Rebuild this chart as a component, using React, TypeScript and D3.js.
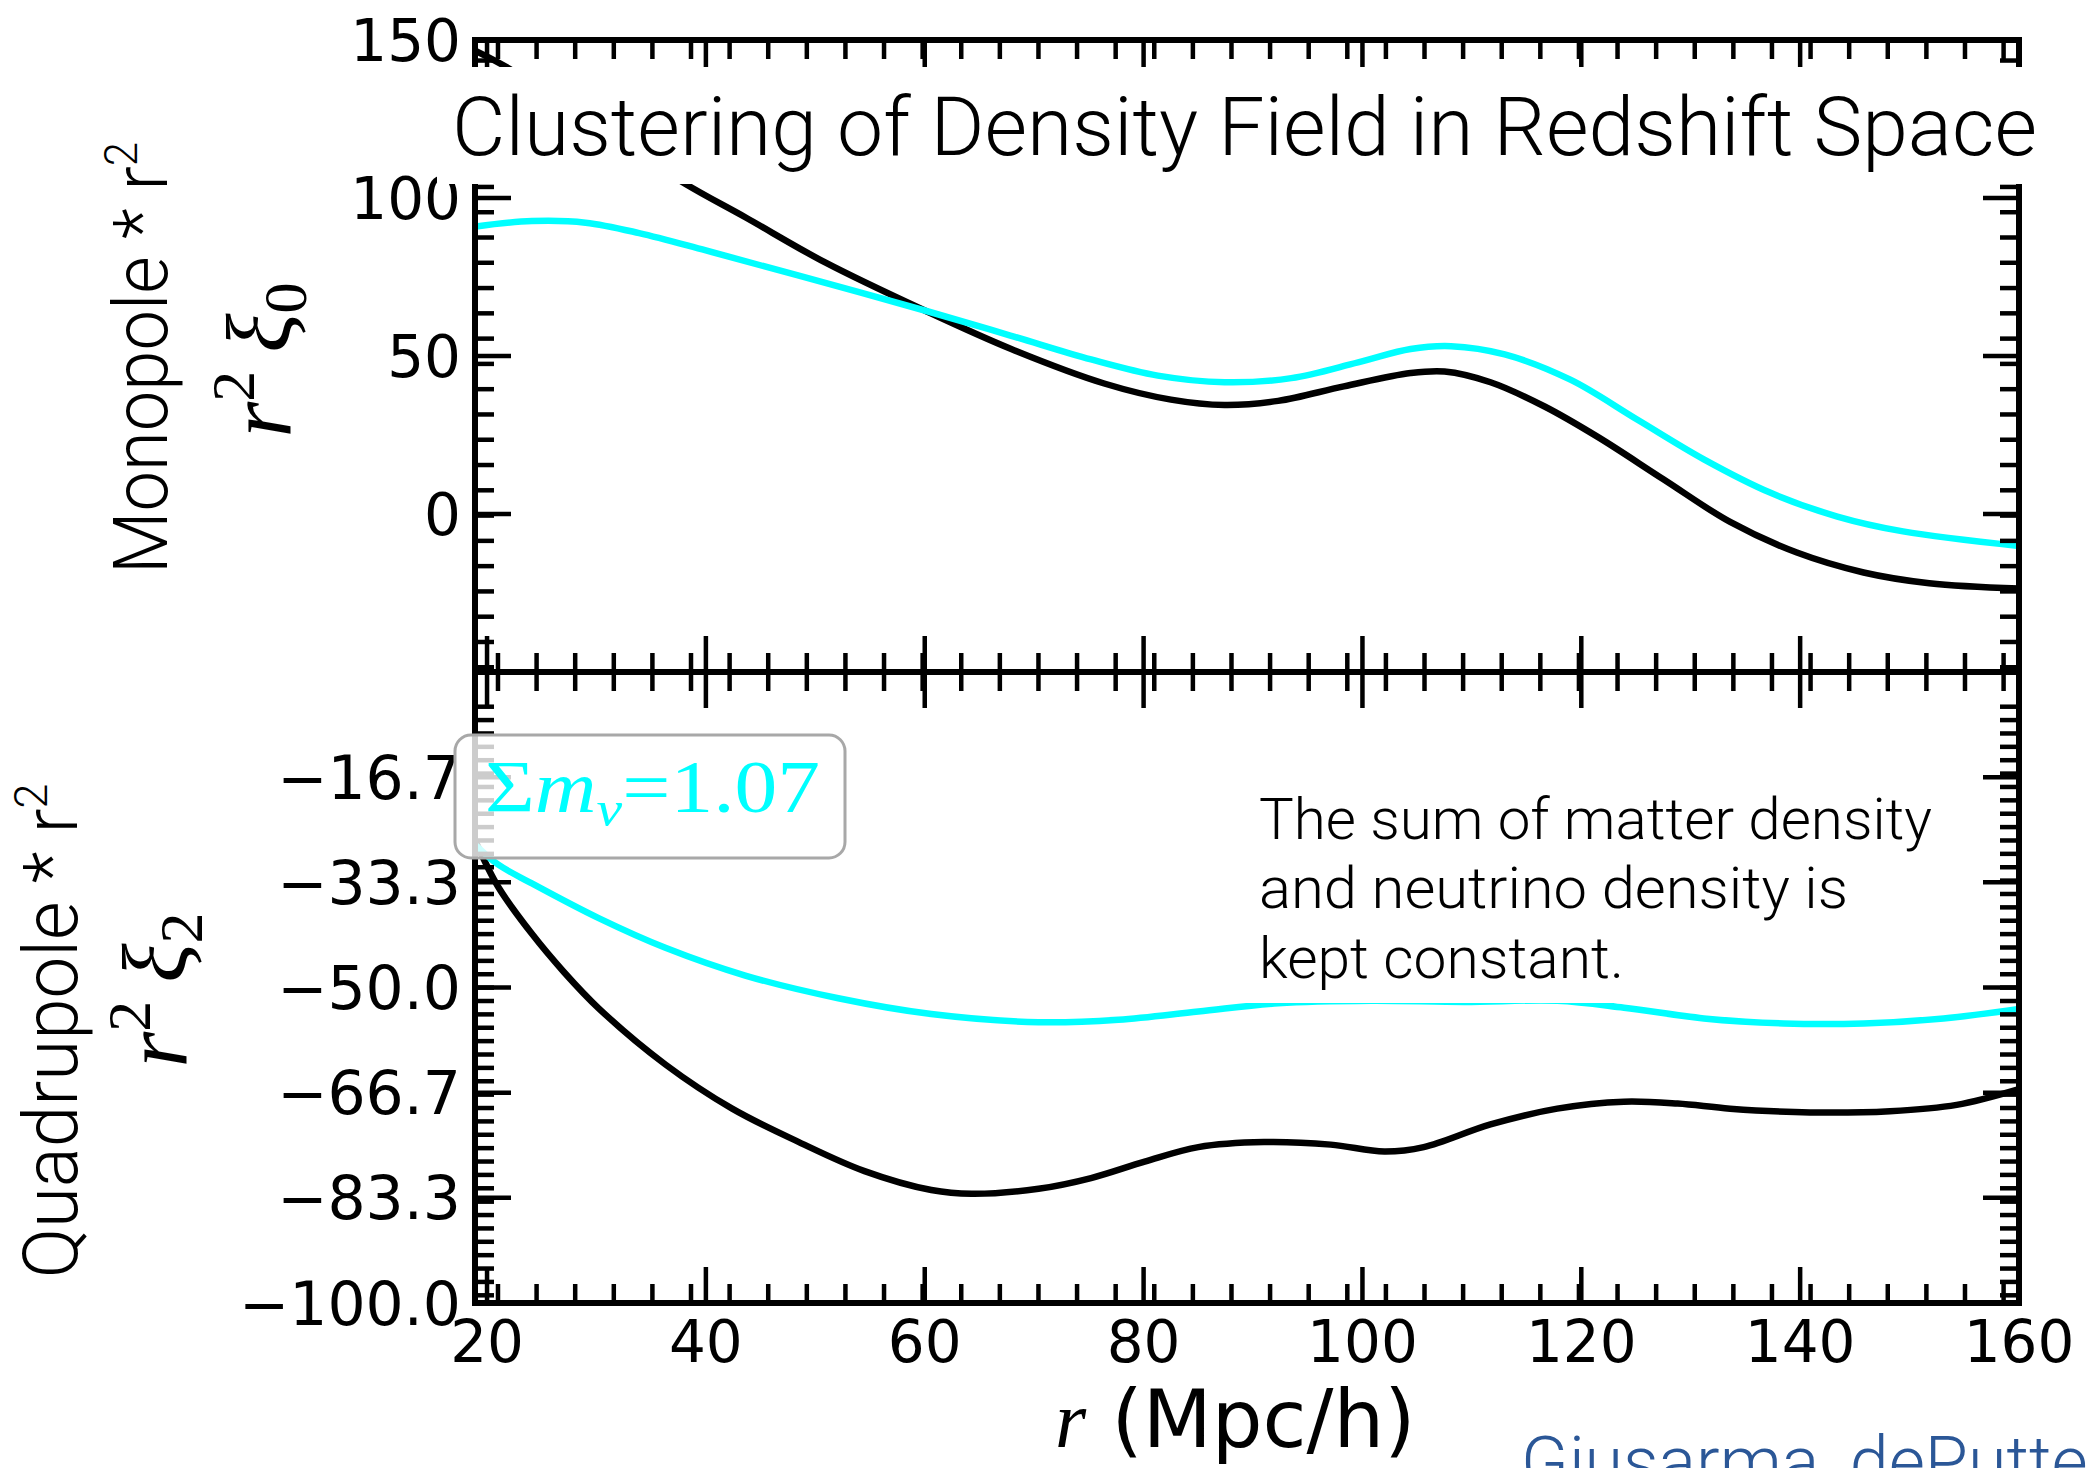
import React from "react";
import * as d3 from "d3";

// ---------- data ----------
const rTopBlack = [19, 22, 30, 38.1, 43.6, 50.9, 60, 67.9, 76.4, 82.5, 87.4, 92.3, 98.3, 104.4, 107.5, 111.7, 116.6, 121.5, 127.5, 133.6, 139.7, 145.8, 151.8, 160];
const monoBlack = [146.5, 141, 122.5, 104.5, 93.9, 79.6, 64.4, 52.2, 41.3, 36.2, 34.5, 35.8, 40.4, 44.6, 45.1, 41.7, 34.1, 24.4, 11, -2.5, -12.2, -18.5, -21.9, -23.6];

const rTopCyan = [19, 24.1, 29, 33.9, 40, 48.5, 60, 67.9, 75.2, 81.3, 87.4, 93.5, 99.6, 104.4, 108.1, 113, 119, 125.1, 131.2, 137.3, 143.4, 149.4, 160];
const monoCyan = [91, 92.7, 92.2, 88.9, 83.4, 75.4, 64.4, 56.4, 48.9, 43.8, 41.7, 43, 48, 52.2, 53.1, 50.5, 42.5, 29.9, 17.3, 6.7, -0.8, -5.5, -10.1];

const rBotBlack = [19, 21, 24.1, 27, 30.2, 36.3, 42.4, 48.5, 54.5, 60.6, 64.3, 70.4, 75.2, 80.1, 85, 91, 97.1, 102, 105.6, 111.7, 117.8, 123.9, 128.8, 133.6, 140.9, 148.2, 154.3, 160];
const quadBlack = [-27, -34, -41.5, -47.5, -53.3, -62.2, -69.2, -74.5, -79.1, -82.1, -82.7, -81.9, -80.2, -77.6, -75.3, -74.5, -74.9, -76, -75.3, -71.7, -69.2, -68.1, -68.4, -69.2, -69.8, -69.6, -68.6, -66.1];

const rBotCyan = [19, 21, 24.1, 30.2, 36.3, 43.6, 52.1, 60.6, 70.4, 77.7, 85, 92.3, 100.8, 109.3, 117.8, 123.9, 131.2, 138.5, 145.8, 153.1, 160];
const quadCyan = [-27.5, -30.5, -33.5, -39, -43.7, -48.1, -51.7, -54.2, -55.5, -55.1, -53.8, -52.5, -52.1, -52.3, -52.1, -53.2, -54.9, -55.7, -55.7, -54.9, -53.4];

const xTickValues = [20, 40, 60, 80, 100, 120, 140, 160];
const topTickValues = [-50, 0, 50, 100, 150];
const topTickLabels = ["", "0", "50", "100", "150"];
const botTickValues = [-100, -83.333, -66.667, -50, -33.333, -16.667, 0];
const botTickLabels = ["\u2212100.0", "\u221283.3", "\u221266.7", "\u221250.0", "\u221233.3", "\u221216.7", ""];

const titleText = "Clustering of Density Field in Redshift Space";
const noteLines = ["The sum of matter density", "and neutrino density is", "kept constant."];
const creditText = "Giusarma, dePutter et al.";

// ---------- layout ----------
const W = 2087, H = 1468;
const L = 475, R = 2019, T = 40, M = 672, B = 1303;
const CYAN = "#00ffff";
const MAJ = 36, MIN = 19;

export default function App() {
  const x = d3.scaleLinear().domain([18.9, 160]).range([L, R]);
  const yTop = d3.scaleLinear().domain([-50, 150]).range([M, T]);
  const yBot = d3.scaleLinear().domain([-100, 0]).range([B, M]);

  const xMinor = d3.range(21.0, 160, 3.528);
  const topMinor = d3.range(-48.5, 150, 8);
  const botMinor = d3.range(-5.5, -100, -2.12);

  const lineGen = (xs: number[], ys: number[], ys2: any) =>
    d3.line<number>().x((_, i) => x(xs[i])).y((_, i) => ys2(ys[i])).curve(d3.curveCatmullRom.alpha(0.5))(ys) || "";

  const tickStyle = { stroke: "#000", strokeWidth: 4.5 };

  const xTicks = (y: number, dir: number, key: string) => (
    <g key={key}>
      {xTickValues.map((v) => (
        <line key={"M" + v} x1={x(v)} x2={x(v)} y1={y} y2={y + dir * MAJ} {...tickStyle} />
      ))}
      {xMinor.map((v, i) => (
        <line key={"m" + i} x1={x(v)} x2={x(v)} y1={y} y2={y + dir * MIN} {...tickStyle} />
      ))}
    </g>
  );

  const yTicks = (sc: any, majors: number[], minors: number[], key: string) => (
    <g key={key}>
      {majors.map((v) => (
        <g key={"M" + v}>
          <line x1={L} x2={L + MAJ} y1={sc(v)} y2={sc(v)} {...tickStyle} />
          <line x1={R} x2={R - MAJ} y1={sc(v)} y2={sc(v)} {...tickStyle} />
        </g>
      ))}
      {minors.map((v, i) => (
        <g key={"m" + i}>
          <line x1={L} x2={L + MIN} y1={sc(v)} y2={sc(v)} {...tickStyle} />
          <line x1={R} x2={R - MIN} y1={sc(v)} y2={sc(v)} {...tickStyle} />
        </g>
      ))}
    </g>
  );

  const dv = { fontFamily: "DejaVu Sans" };
  const light = { fontFamily: "Roboto, 'Open Sans', sans-serif", fontWeight: 300 };
  const serif = { fontFamily: "'Liberation Serif', 'DejaVu Serif', serif" };

  return (
    <svg width={W} height={H} style={{ position: "absolute", left: 0, top: 0, background: "#fff" }}>
      <defs>
        <clipPath id="cTop"><rect x={L} y={T} width={R - L} height={M - T} /></clipPath>
        <clipPath id="cBot"><rect x={L} y={M} width={R - L} height={B - M} /></clipPath>
      </defs>
      <rect x={0} y={0} width={W} height={H} fill="#fff" />

      {/* curves */}
      <g clipPath="url(#cTop)" fill="none" strokeWidth={6.5}>
        <path d={lineGen(rTopBlack, monoBlack, yTop)} stroke="#000" />
        <path d={lineGen(rTopCyan, monoCyan, yTop)} stroke={CYAN} />
      </g>
      <g clipPath="url(#cBot)" fill="none" strokeWidth={6.5}>
        <path d={lineGen(rBotBlack, quadBlack, yBot)} stroke="#000" />
        <path d={lineGen(rBotCyan, quadCyan, yBot)} stroke={CYAN} />
      </g>

      {/* ticks */}
      {xTicks(T, 1, "xt1")}
      {xTicks(M, -1, "xt2")}
      {xTicks(M, 1, "xt3")}
      {xTicks(B, -1, "xt4")}
      {yTicks(yTop, topTickValues, topMinor, "yt1")}
      {yTicks(yBot, botTickValues, botMinor, "yt2")}

      {/* spines */}
      <rect x={L} y={T} width={R - L} height={M - T} fill="none" stroke="#000" strokeWidth={6} />
      <rect x={L} y={M} width={R - L} height={B - M} fill="none" stroke="#000" strokeWidth={6} />

      {/* tick labels */}
      <g {...dv} fontSize={58} fill="#000">
        {topTickValues.map((v, i) => (
          <text key={v} x={461} y={yTop(v)} dy="0.36em" textAnchor="end">{topTickLabels[i]}</text>
        ))}
        {xTickValues.map((v) => (
          <text key={v} x={x(v)} y={1362} textAnchor="middle">{v}</text>
        ))}
      </g>
      <g {...dv} fontSize={60} fill="#000">
        {botTickValues.map((v, i) => (
          <text key={v} x={461} y={yBot(v)} dy="0.36em" textAnchor="end">{botTickLabels[i]}</text>
        ))}
      </g>

      {/* legend */}
      <rect x={455} y={735} width={390} height={123} rx={16} fill="#fff" fillOpacity={0.8} stroke="#a8a8a8" strokeWidth={3} />
      <text x={485} y={812} {...serif} fontSize={74} fill={CYAN} textLength={335} lengthAdjust="spacingAndGlyphs">
        <tspan>Σ</tspan>
        <tspan fontStyle="italic">m</tspan>
        <tspan fontStyle="italic" fontSize={50} dy={14}>ν</tspan>
        <tspan dy={-14}>=1.07</tspan>
      </text>

      {/* x label */}
      <text x={1055} y={1447} fontSize={80} fill="#000">
        <tspan {...serif} fontStyle="italic">r</tspan>
        <tspan {...dv}> (Mpc/h)</tspan>
      </text>

      {/* y labels */}
      <text transform="translate(167,358) rotate(-90)" textAnchor="middle" {...light} fontSize={76} fill="#000" textLength={432} lengthAdjust="spacingAndGlyphs">
        Monopole * r<tspan fontSize={46} dy={-30}>2</tspan>
      </text>
      <text transform="translate(290,360) rotate(-90)" textAnchor="middle" {...serif} fontSize={92} fill="#000">
        <tspan fontStyle="italic">r</tspan>
        <tspan fontSize={62} dy={-36}>2</tspan>
        <tspan dy={36} fontStyle="italic" dx={18}>ξ</tspan>
        <tspan fontSize={62} dy={16}>0</tspan>
      </text>
      <text transform="translate(77,1031) rotate(-90)" textAnchor="middle" {...light} fontSize={76} fill="#000" textLength={495} lengthAdjust="spacingAndGlyphs">
        Quadrupole * r<tspan fontSize={46} dy={-30}>2</tspan>
      </text>
      <text transform="translate(186,990) rotate(-90)" textAnchor="middle" {...serif} fontSize={92} fill="#000">
        <tspan fontStyle="italic">r</tspan>
        <tspan fontSize={62} dy={-36}>2</tspan>
        <tspan dy={36} fontStyle="italic" dx={18}>ξ</tspan>
        <tspan fontSize={62} dy={16}>2</tspan>
      </text>

      {/* title overlay */}
      <rect x={437} y={67} width={1615} height={117} fill="#fff" />
      <text x={452} y={155} {...light} fontSize={81} fill="#000" textLength={1585} lengthAdjust="spacingAndGlyphs">{titleText}</text>

      {/* note overlay */}
      <rect x={1245} y={772} width={728} height={231} fill="#fff" />
      <g {...light} fontSize={57} fill="#000">
        <text x={1259} y={839} textLength={673} lengthAdjust="spacingAndGlyphs">{noteLines[0]}</text>
        <text x={1259} y={908} textLength={589} lengthAdjust="spacingAndGlyphs">{noteLines[1]}</text>
        <text x={1259} y={978} textLength={365} lengthAdjust="spacingAndGlyphs">{noteLines[2]}</text>
      </g>

      {/* credit */}
      <text x={1521} y={1486} {...light} fontSize={70} fill="#2b5797">{creditText}</text>
    </svg>
  );
}
